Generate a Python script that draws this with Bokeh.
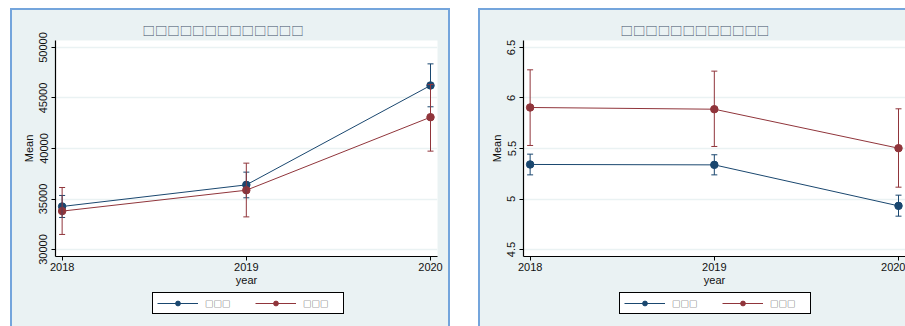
from bokeh.plotting import figure
from bokeh.layouts import row, column
from bokeh.models import (ColumnDataSource, Whisker, TeeHead, Legend, LegendItem,
                          FixedTicker, Range1d)
from bokeh.embed import file_html
from bokeh.resources import INLINE

# ---- data ----------------------------------------------------------------
years = [2018, 2019, 2020]
year_ticks = [2018, 2019, 2020]
legend_labels = ["□□□", "□□□"]

# left panel: mean with confidence interval
left_title = "□□□□□□□□□□□□□"
left_ticks = [30000, 35000, 40000, 45000, 50000]
left_tick_labels = ["30000", "35000", "40000", "45000", "50000"]
left_a_mean = [34260, 36400, 46240]
left_a_lo = [33170, 35120, 44130]
left_a_hi = [35350, 37660, 48380]
left_b_mean = [33800, 35870, 43100]
left_b_lo = [31490, 33230, 39740]
left_b_hi = [36140, 38550, 46340]

# right panel
right_title = "□□□□□□□□□□□□"
right_ticks = [4.5, 5.0, 5.5, 6.0, 6.5]
right_tick_labels = ["4.5", "5", "5.5", "6", "6.5"]
right_a_mean = [5.342, 5.338, 4.932]
right_a_lo = [5.239, 5.239, 4.830]
right_a_hi = [5.444, 5.438, 5.038]
right_b_mean = [5.906, 5.889, 5.503]
right_b_lo = [5.530, 5.520, 5.117]
right_b_hi = [6.279, 6.266, 5.893]

# ---- styling -------------------------------------------------------------
NAVY = "#1a476f"
MAROON = "#90353b"
PANEL = "#eaf2f3"
EDGE = "#74a5dc"
FONT = "Liberation Sans"
CJK = "Noto Sans CJK SC"
LW = 1.0


def make_panel(title, title_offset, y_lo, y_hi, ticks, tick_labels, series,
               width, border_right, key_x, margin):
    p = figure(width=width, height=280,
               x_range=Range1d(2017.964, 2020.038),
               y_range=Range1d(y_lo, y_hi),
               output_backend="svg", toolbar_location=None,
               min_border_left=43, min_border_right=border_right,
               min_border_top=30, min_border_bottom=34,
               background_fill_color="white", border_fill_color=PANEL,
               outline_line_color=None)

    p.title.text = title
    p.title.align = "left"
    p.title.offset = title_offset
    p.title.text_font = CJK
    p.title.text_font_size = "12.4px"
    p.title.text_font_style = "normal"
    p.title.text_color = "#3f5068"
    p.title.standoff = 2

    p.xgrid.visible = False
    p.ygrid.grid_line_color = PANEL
    p.ygrid.grid_line_width = 1.5

    for ax in (p.xaxis[0], p.yaxis[0]):
        ax.axis_line_color = "black"
        ax.axis_line_width = 1.2
        ax.major_tick_line_color = "black"
        ax.major_tick_out = 4
        ax.major_tick_in = 0
        ax.minor_tick_line_color = None
        ax.major_label_text_font = FONT
        ax.major_label_text_font_size = "11px"
        ax.major_label_text_color = "#111111"
        ax.axis_label_text_font = FONT
        ax.axis_label_text_font_size = "11px"
        ax.axis_label_text_font_style = "normal"
        ax.axis_label_text_color = "#111111"

    p.xaxis.ticker = FixedTicker(ticks=year_ticks)
    p.xaxis.axis_label = "year"
    p.xaxis.major_label_standoff = 2
    p.xaxis.axis_label_standoff = 0

    p.yaxis.ticker = FixedTicker(ticks=ticks)
    p.yaxis.major_label_overrides = {t: s for t, s in zip(ticks, tick_labels)}
    p.yaxis.major_label_orientation = "vertical"
    p.yaxis.axis_label = "Mean"
    p.yaxis.major_label_standoff = 4
    p.yaxis.axis_label_standoff = 2

    # legend strip under the plot, inside the same panel; its ranges keep
    # the series themselves out of view so only the legend keys show
    key = figure(width=width, height=36, x_range=Range1d(0, 1), y_range=Range1d(0, 1),
                 output_backend="svg", toolbar_location=None,
                 x_axis_type=None, y_axis_type=None,
                 min_border=0, background_fill_color=PANEL,
                 border_fill_color=PANEL, outline_line_color=None)
    key.grid.visible = False

    whiskers = []
    items = []
    for mean, lo, hi, color, label in series:
        src = ColumnDataSource(dict(x=years, y=mean, lo=lo, hi=hi))
        p.line("x", "y", source=src, line_color=color, line_width=LW)
        p.scatter("x", "y", source=src, size=7.5, marker="circle",
                  fill_color=color, line_color=color)
        whiskers.append(Whisker(source=src, base="x", upper="hi", lower="lo",
                                dimension="height", line_color=color,
                                line_width=LW, level="glyph",
                                upper_head=TeeHead(size=6, line_color=color,
                                                   line_width=LW),
                                lower_head=TeeHead(size=6, line_color=color,
                                                   line_width=LW)))
        k_src = ColumnDataSource(dict(x=years, y=mean))
        k_ln = key.line("x", "y", source=k_src, line_color=color, line_width=LW)
        k_dot = key.scatter("x", "y", source=k_src, size=7, marker="circle",
                            fill_color=color, line_color=color)
        items.append(LegendItem(label=label, renderers=[k_ln, k_dot]))
    for w in whiskers:
        p.add_layout(w)

    legend = Legend(items=items, orientation="horizontal",
                    location=(key_x, 12),
                    border_line_color="black", border_line_width=1.2,
                    border_line_alpha=1.0,
                    background_fill_color="white", background_fill_alpha=1.0,
                    label_text_font=CJK, label_text_font_size="8.5px",
                    label_text_color="#333333",
                    glyph_width=41, glyph_height=12,
                    label_width=36, label_height=12,
                    label_standoff=7, spacing=14, padding=4, margin=0)
    key.add_layout(legend)

    panel = column(p, key, spacing=0)
    panel.margin = margin
    panel.styles = {"outline": f"2px solid {EDGE}", "background-color": PANEL}
    return panel


left = make_panel(left_title, 87, 29307, 50693, left_ticks, left_tick_labels,
                  [(left_a_mean, left_a_lo, left_a_hi, NAVY, legend_labels[0]),
                   (left_b_mean, left_b_lo, left_b_hi, MAROON, legend_labels[1])],
                  width=436, border_right=11, key_x=97, margin=(10, 0, 0, 12))

right = make_panel(right_title, 97, 4.4307, 6.5693, right_ticks, right_tick_labels,
                   [(right_a_mean, right_a_lo, right_a_hi, NAVY, legend_labels[0]),
                    (right_b_mean, right_b_lo, right_b_hi, MAROON, legend_labels[1])],
                   width=425, border_right=0, key_x=96, margin=(10, 0, 0, 32))

layout = row(left, right)
layout.styles = {"background-color": "white"}

open("out.html", "w").write(file_html(layout, INLINE))
